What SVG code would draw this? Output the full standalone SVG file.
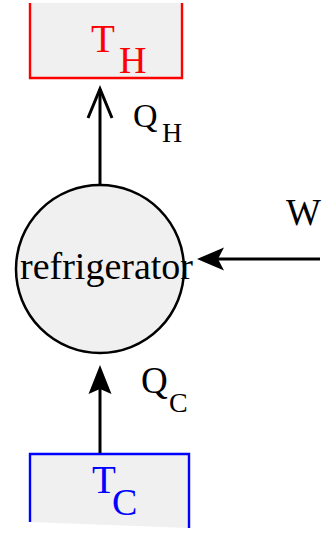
<svg xmlns="http://www.w3.org/2000/svg" width="328" height="533" viewBox="0 0 328 533">
<style>
text{font-family:'Liberation Serif','Times New Roman',Times,'DejaVu Serif',serif;}
.box{fill:#f0f0f0;}
.arr{stroke:#000;stroke-width:3;fill:none;}
</style>
<rect width="328" height="533" fill="#fff"/>
<g id="hot">
<rect class="box" x="30" y="3" width="152" height="76"/>
<path d="M30,3 V78 H182 V3" fill="none" stroke="#ff0000" stroke-width="2.4"/>
<text x="91" y="52" font-size="39" fill="#ff0000" font-family="Liberation Serif, serif">T</text>
<text x="119" y="73" font-size="38" fill="#ff0000" font-family="Liberation Serif, serif">H</text>
</g>
<g id="cold">
<polygon class="box" points="30,454 189,454 189,528 30,522"/>
<path d="M30,522 V454 H189 V528" fill="none" stroke="#0000ff" stroke-width="2.4"/>
<text x="92" y="493" font-size="39" fill="#0000ff" font-family="Liberation Serif, serif">T</text>
<text x="112" y="515" font-size="38" fill="#0000ff" font-family="Liberation Serif, serif">C</text>
</g>
<g id="refrigerator">
<circle cx="100" cy="269" r="84" fill="#f0f0f0" stroke="#000" stroke-width="2.5"/>
<text x="20" y="279" font-size="38" fill="#000" font-family="Liberation Serif, serif">refrigerator</text>
</g>
<g id="connectors">
<line class="arr" x1="100" y1="185" x2="100" y2="89"/>
<polyline class="arr" points="88,118 100,89 112,118"/>
<line class="arr" x1="100" y1="453" x2="100" y2="388"/>
<polygon points="100,365 111.5,394 100,389 88.5,394" fill="#000"/>
<line class="arr" x1="320" y1="259" x2="218" y2="259"/>
<polygon points="197,259 224,247.5 218,259 224,270.5" fill="#000"/>
</g>
<g id="labels">
<text x="133" y="127" font-size="34" fill="#000" font-family="Liberation Serif, serif">Q</text>
<text x="162" y="142" font-size="28" fill="#000" font-family="Liberation Serif, serif">H</text>
<text x="141" y="393" font-size="37" fill="#000" font-family="Liberation Serif, serif">Q</text>
<text x="169" y="412" font-size="28" fill="#000" font-family="Liberation Serif, serif">C</text>
<text x="286" y="225" font-size="37" fill="#000" font-family="Liberation Serif, serif">W</text>
</g>
</svg>
